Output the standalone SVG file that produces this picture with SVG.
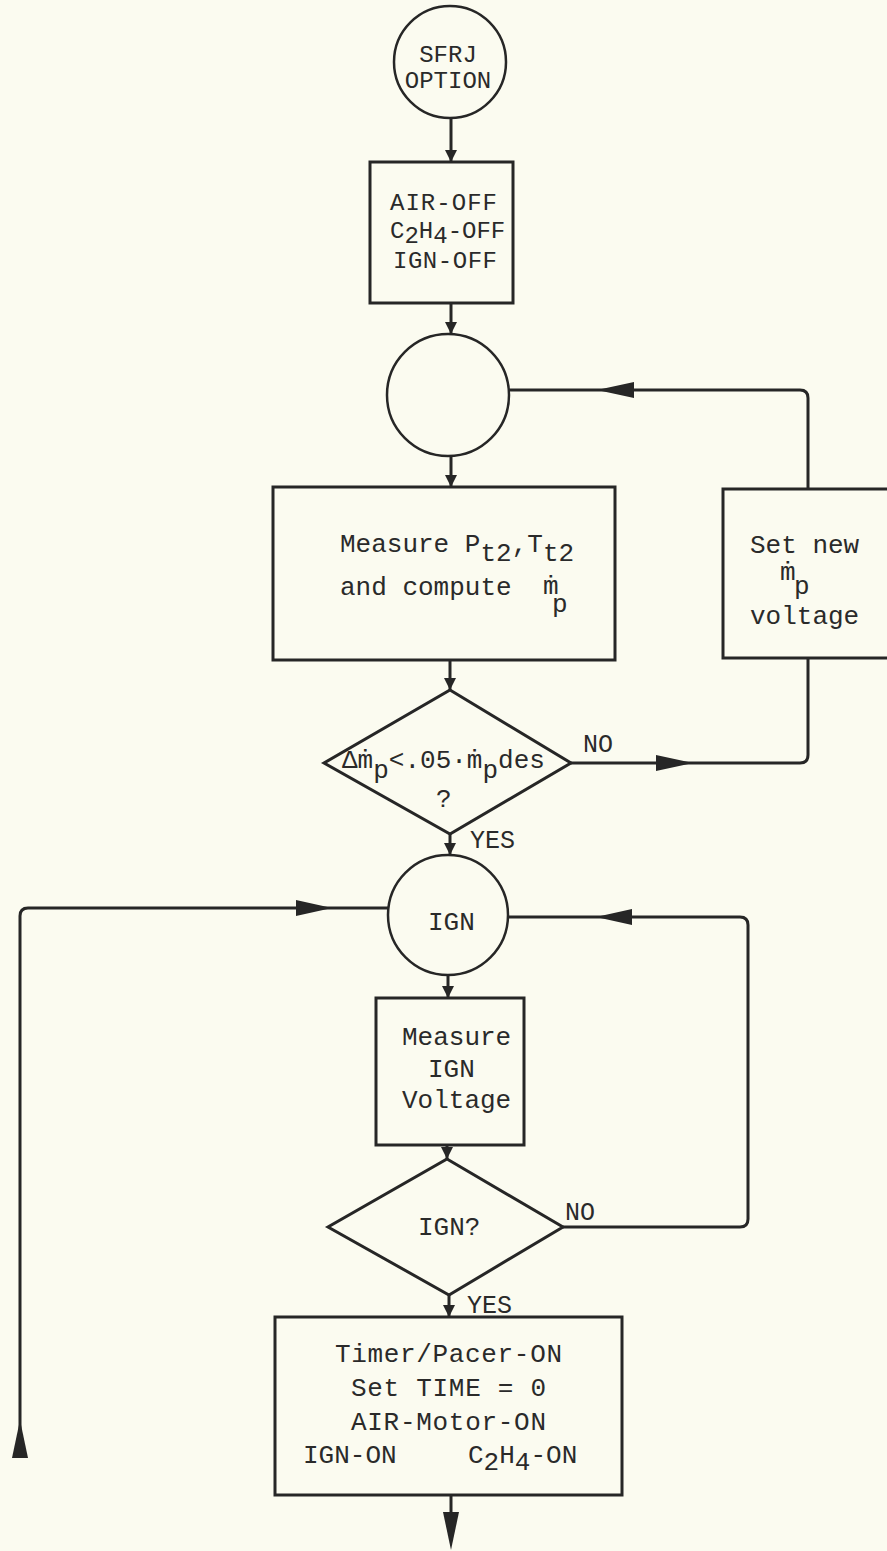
<svg xmlns="http://www.w3.org/2000/svg" width="887" height="1551" viewBox="0 0 887 1551">
<defs>
<style>
.bg{fill:#fbfbf0}
.nd{fill:none;stroke:#262626;stroke-width:3}
.cr{fill:none;stroke:#262626;stroke-width:2.5}
.ln{fill:none;stroke:#262626;stroke-width:3}
.ah{fill:#262626;stroke:none}
.t{font-family:"Liberation Mono","DejaVu Sans Mono",monospace;font-size:26px;fill:#2a2a2a}
.s{font-family:"Liberation Mono","DejaVu Sans Mono",monospace;font-size:24px;fill:#2a2a2a}
.lb{font-family:"Liberation Mono","DejaVu Sans Mono",monospace;font-size:25px;fill:#2a2a2a}
</style>
<marker id="sa" viewBox="0 0 12 12" refX="12" refY="6" markerWidth="12" markerHeight="12" markerUnits="userSpaceOnUse" orient="auto">
<path d="M0,0 L12,6 L0,12 z" fill="#262626"/>
</marker>
</defs>
<rect class="bg" x="0" y="0" width="887" height="1551"/>

<g id="n-start">
<circle class="cr" cx="450" cy="62" r="56"/>
<text class="s" x="448" y="62" text-anchor="middle">SFRJ</text>
<text class="s" x="448" y="88" text-anchor="middle">OPTION</text>
</g>

<g id="n-off">
<rect class="nd" x="370" y="162" width="143" height="141"/>
<text class="s" x="390" y="210" textLength="107">AIR-OFF</text>
<text class="s" x="390" y="238">C<tspan dy="5">2</tspan><tspan dy="-5">H</tspan><tspan dy="5">4</tspan><tspan dy="-5">-OFF</tspan></text>
<text class="s" x="393" y="268" textLength="104">IGN-OFF</text>
</g>

<g id="n-conn1">
<circle class="cr" cx="448" cy="395" r="61"/>
</g>

<g id="n-measure">
<rect class="nd" x="273" y="487" width="342" height="173"/>
<text class="t" x="340" y="552">Measure P<tspan dy="9">t2</tspan><tspan dy="-9">,T</tspan><tspan dy="9">t2</tspan></text>
<text class="t" x="340" y="595">and compute</text>
<text class="t" x="543" y="594">ṁ</text>
<text class="t" x="552" y="612">p</text>
</g>

<g id="n-setnew">
<rect class="nd" x="723" y="489" width="170" height="169"/>
<text class="t" x="750" y="553">Set new</text>
<text class="t" x="780" y="580">ṁ</text>
<text class="t" x="794" y="594">p</text>
<text class="t" x="750" y="624">voltage</text>
</g>

<g id="n-dec1">
<polygon class="nd" points="450,690 571,763 450,834 324,763"/>
<text class="t" x="342" y="768">Δṁ<tspan dy="10">p</tspan><tspan dy="-10">&lt;.05·ṁ</tspan><tspan dy="10">p</tspan><tspan dy="-10">des</tspan></text>
<text class="t" x="436" y="807">?</text>
</g>

<g id="n-ign">
<circle class="cr" cx="448" cy="915" r="60"/>
<text class="t" x="428" y="930">IGN</text>
</g>

<g id="n-measign">
<rect class="nd" x="376" y="998" width="148" height="147"/>
<text class="t" x="402" y="1045">Measure</text>
<text class="t" x="428" y="1077">IGN</text>
<text class="t" x="402" y="1108">Voltage</text>
</g>

<g id="n-dec2">
<polygon class="nd" points="447,1159 563,1227 449,1295 328,1227"/>
<text class="t" x="418" y="1235">IGN?</text>
</g>

<g id="n-on">
<rect class="nd" x="275" y="1317" width="347" height="178"/>
<text class="t" x="335" y="1362" textLength="227">Timer/Pacer-ON</text>
<text class="t" x="351" y="1396" textLength="195">Set TIME = 0</text>
<text class="t" x="351" y="1430" textLength="195">AIR-Motor-ON</text>
<text class="t" x="303" y="1463">IGN-ON</text>
<text class="t" x="468" y="1463">C<tspan dy="7">2</tspan><tspan dy="-7">H</tspan><tspan dy="7">4</tspan><tspan dy="-7">-ON</tspan></text>
</g>

<g id="connectors">
<line class="ln" x1="451" y1="118" x2="451" y2="162" marker-end="url(#sa)"/>
<line class="ln" x1="451" y1="303" x2="451" y2="334" marker-end="url(#sa)"/>
<line class="ln" x1="451" y1="456" x2="451" y2="487" marker-end="url(#sa)"/>
<line class="ln" x1="450" y1="660" x2="450" y2="690" marker-end="url(#sa)"/>
<line class="ln" x1="450" y1="834" x2="450" y2="855" marker-end="url(#sa)"/>
<line class="ln" x1="448" y1="975" x2="448" y2="998" marker-end="url(#sa)"/>
<line class="ln" x1="447" y1="1145" x2="447" y2="1159" marker-end="url(#sa)"/>
<line class="ln" x1="449" y1="1295" x2="449" y2="1317" marker-end="url(#sa)"/>
<line class="ln" x1="451" y1="1495" x2="451" y2="1540"/>
<polygon class="ah" points="443,1512 459,1512 451,1550"/>

<path class="ln" d="M571,763 H800 Q808,763 808,755 V658"/>
<polygon class="ah" points="656,755 656,771 693,763"/>
<text class="lb" x="583" y="752">NO</text>
<text class="lb" x="470" y="848">YES</text>

<path class="ln" d="M808,489 V398 Q808,390 800,390 H509"/>
<polygon class="ah" points="634,382 634,398 597,390"/>

<path class="ln" d="M563,1227 H740 Q748,1227 748,1219 V925 Q748,917 740,917 H508"/>
<polygon class="ah" points="632,909 632,925 596,917"/>
<text class="lb" x="565" y="1220">NO</text>
<text class="lb" x="467" y="1313">YES</text>

<path class="ln" d="M20,1455 V916 Q20,908 28,908 H388"/>
<polygon class="ah" points="296,900 296,916 332,908"/>
<polygon class="ah" points="12,1458 28,1458 20,1420"/>
</g>
</svg>
